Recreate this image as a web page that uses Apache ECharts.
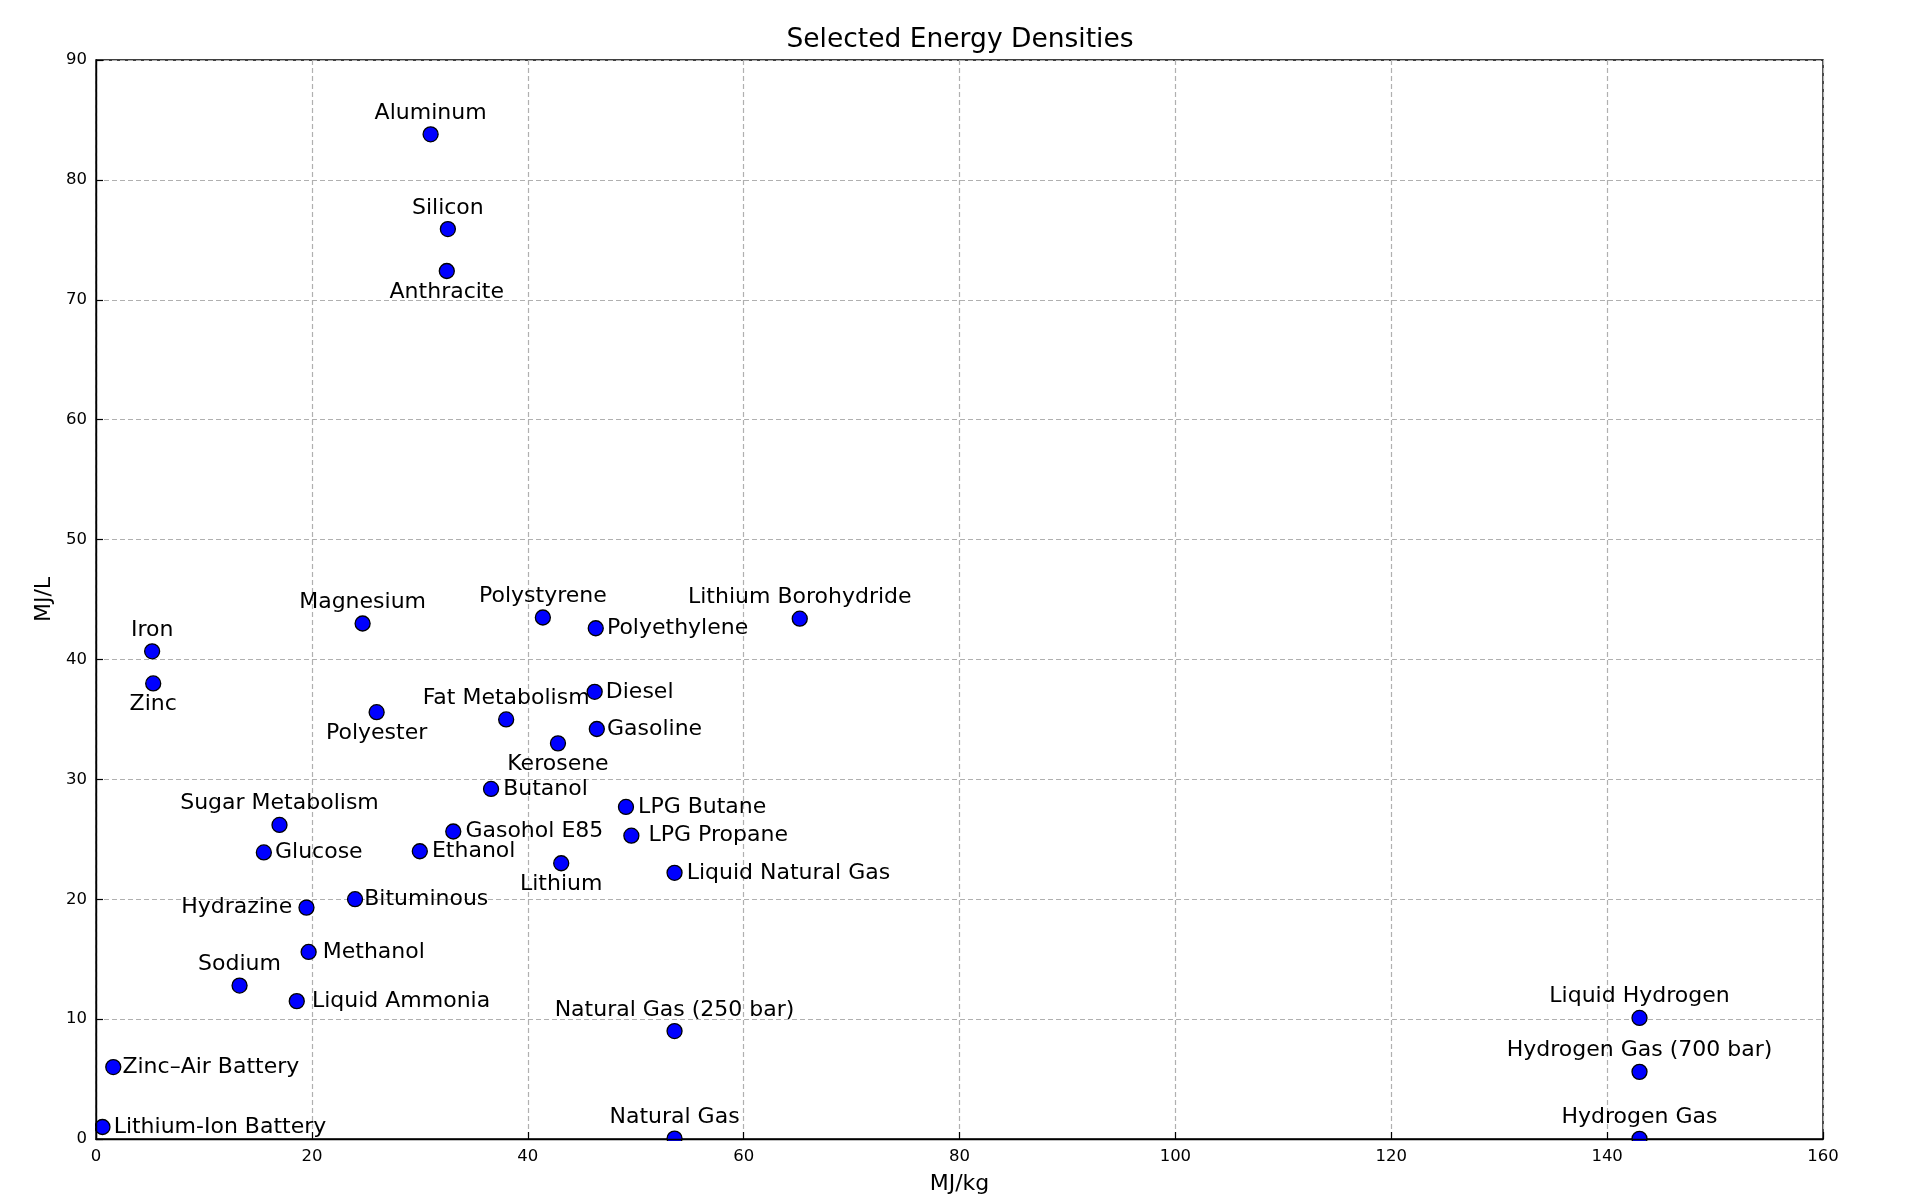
<!DOCTYPE html>
<html>
<head>
<meta charset="utf-8">
<script src="https://cdn.jsdelivr.net/npm/echarts@6/dist/echarts.min.js"></script>
<style>
html,body{margin:0;padding:0;background:#fff;}
#chart{width:1920px;height:1200px;}
</style>
</head>
<body>
<div id="chart"></div>
<script>
// ---- data ----
var names = ["Aluminum","Silicon","Anthracite","Iron","Zinc","Magnesium","Polystyrene","Polyethylene",
  "Lithium Borohydride","Diesel","Gasoline","Fat Metabolism","Polyester","Kerosene","Butanol","LPG Butane",
  "LPG Propane","Gasohol E85","Ethanol","Lithium","Liquid Natural Gas","Sugar Metabolism","Glucose","Hydrazine",
  "Bituminous","Methanol","Sodium","Liquid Ammonia","Natural Gas (250 bar)","Zinc\u2013Air Battery",
  "Lithium-Ion Battery","Natural Gas","Liquid Hydrogen","Hydrogen Gas (700 bar)","Hydrogen Gas"];
var mjPerKg = [31.0,32.6,32.5,5.2,5.3,24.7,41.4,46.3,
  65.2,46.2,46.4,38.0,26.0,42.8,36.6,49.1,
  49.6,33.1,30.0,43.1,53.6,17.0,15.55,19.5,
  24.0,19.7,13.3,18.6,53.6,1.6,
  0.6,53.6,143.0,143.0,143.0];
var mjPerL = [83.8,75.9,72.4,40.68,38.0,43.0,43.5,42.6,
  43.4,37.3,34.2,35.0,35.6,33.0,29.2,27.7,
  25.3,25.65,24.0,23.0,22.2,26.2,23.9,19.3,
  20.0,15.6,12.8,11.5,9.0,6.0,
  1.0,0.036,10.1,5.6,0.01];
var xTicks = [0,20,40,60,80,100,120,140,160];
var yTicks = [0,10,20,30,40,50,60,70,80,90];

// ---- label placement (style only) ----
var labelPlace = {
  "Aluminum":["top",2],"Silicon":["top",2],"Anthracite":["bottom",2],"Iron":["top",2],"Zinc":["bottom",2],
  "Magnesium":["top",2],"Polystyrene":["top",2],"Polyethylene":["right",3],"Lithium Borohydride":["top",2],
  "Diesel":["right",3],"Gasoline":["right",2],"Fat Metabolism":["top",2],"Polyester":["bottom",2],
  "Kerosene":["bottom",2],"Butanol":["right",4],"LPG Butane":["right",4],"LPG Propane":["right",9],
  "Gasohol E85":["right",4],"Ethanol":["right",4],"Lithium":["bottom",2],"Liquid Natural Gas":["right",4],
  "Sugar Metabolism":["top",2],"Glucose":["right",3],"Hydrazine":["left",6],"Bituminous":["right",1],
  "Methanol":["right",6],"Sodium":["top",2],"Liquid Ammonia":["right",7],"Natural Gas (250 bar)":["top",2],
  "Zinc\u2013Air Battery":["right",1],"Lithium-Ion Battery":["right",3],"Natural Gas":["top",2],
  "Liquid Hydrogen":["top",2],"Hydrogen Gas (700 bar)":["top",2],"Hydrogen Gas":["top",2]
};

var FONT = "DejaVu Sans";
var points = names.map(function(n,i){
  var p = labelPlace[n] || ["top",2];
  return {
    name: n,
    value: [mjPerKg[i], mjPerL[i]],
    label: {show:true, position:p[0], distance:p[1]}
  };
});

var chart = echarts.init(document.getElementById('chart'), null, {renderer:'canvas'});
var gridL = 96, gridR = 97, gridT = 60, gridB = 60;
chart.setOption({
  backgroundColor:'#fff',
  animation:false,
  title:{text:'Selected Energy Densities', left:'center', top:22,
    textStyle:{fontFamily:FONT, fontSize:26.5, fontWeight:'normal', color:'#000'}},
  grid:{left:gridL, right:gridR, top:gridT, bottom:gridB, show:true, borderColor:'#000', borderWidth:1.4, backgroundColor:'transparent'},
  graphic:[
    {type:'rect', z:5, silent:true, shape:{x:0, y:1200-gridB+1, width:1920, height:gridB}, style:{fill:'#fff'}},
    {type:'rect', z:5, silent:true, shape:{x:0, y:0, width:gridL-1, height:1200}, style:{fill:'#fff'}}
  ],
  xAxis:[
    {type:'value', min:xTicks[0], max:xTicks[xTicks.length-1], interval:20, position:'bottom',
      axisLine:{show:false}, axisTick:{show:false}, axisLabel:{show:false},
      splitLine:{show:true, lineStyle:{color:'#b0b0b0', type:[5,3], width:1.2}}},
    {type:'value', min:xTicks[0], max:xTicks[xTicks.length-1], interval:20, position:'bottom', z:10,
      name:'MJ/kg', nameLocation:'middle', nameGap:34,
      nameTextStyle:{fontFamily:FONT, fontSize:22, color:'#000'},
      axisLine:{show:true, onZero:false, lineStyle:{color:'#000', width:1.4}},
      axisTick:{show:true, inside:true, length:7, lineStyle:{color:'#000', width:1.2}},
      axisLabel:{show:true, margin:9, fontFamily:FONT, fontSize:16.5, color:'#000'},
      splitLine:{show:false}}
  ],
  yAxis:[
    {type:'value', min:yTicks[0], max:yTicks[yTicks.length-1], interval:10, position:'left',
      axisLine:{show:false}, axisTick:{show:false}, axisLabel:{show:false},
      splitLine:{show:true, lineStyle:{color:'#b0b0b0', type:[5,3], width:1.2}}},
    {type:'value', min:yTicks[0], max:yTicks[yTicks.length-1], interval:10, position:'left', z:10,
      name:'MJ/L', nameLocation:'middle', nameGap:34, nameRotate:90,
      nameTextStyle:{fontFamily:FONT, fontSize:22, color:'#000'},
      axisLine:{show:true, onZero:false, lineStyle:{color:'#000', width:1.4}},
      axisTick:{show:true, inside:true, length:7, lineStyle:{color:'#000', width:1.2}},
      axisLabel:{show:true, margin:9, fontFamily:FONT, fontSize:16.5, color:'#000'},
      splitLine:{show:false}}
  ],
  series:[{
    type:'scatter',
    xAxisIndex:0, yAxisIndex:0,
    symbol:'circle', symbolSize:15,
    itemStyle:{color:'#0000ff', borderColor:'#000', borderWidth:1.3, opacity:1},
    label:{show:true, formatter:'{b}', fontFamily:FONT, fontSize:22, color:'#000', lineHeight:22},
    labelLayout:{hideOverlap:false},
    emphasis:{disabled:true},
    data: points
  }]
});
</script>
</body>
</html>
